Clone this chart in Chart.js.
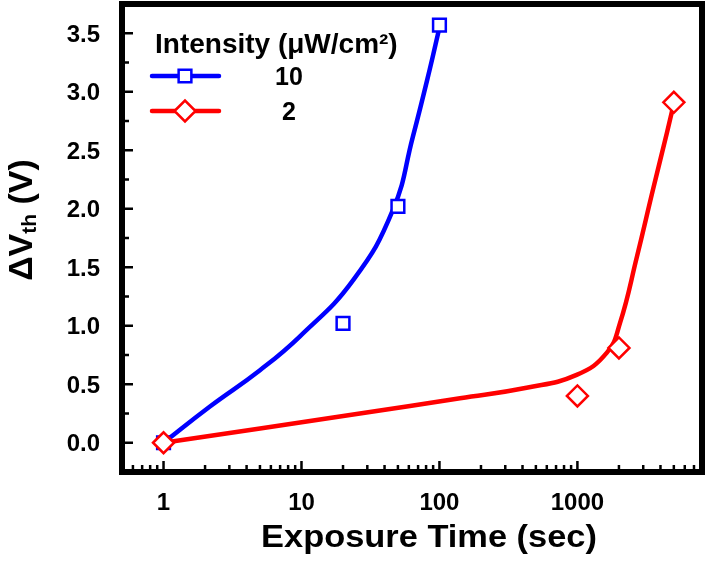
<!DOCTYPE html>
<html>
<head>
<meta charset="utf-8">
<script src="https://cdn.jsdelivr.net/npm/chart.js@4"></script>
<style>
  html, body { margin: 0; padding: 0; background: #fff; }
  #wrap { width: 708px; height: 570px; position: relative; }
</style>
</head>
<body>
<div id="wrap"><canvas id="shiftChart"></canvas></div>

<script>
// measured points
var blueTime = [1, 20, 50, 100];
var blueShift = [0, 1.02, 2.02, 3.57];
var redTime = [1, 1000, 2000, 5000];
var redShift = [0, 0.40, 0.81, 2.91];

// fitted curves
var blueFitTime = [1, 2.17, 5.0, 9.75, 23.7, 46, 64, 85, 100];
var blueFitShift = [0, 0.31, 0.62, 0.91, 1.39, 1.99, 2.61, 3.19, 3.55];
var redFitTime = [1, 26.5, 141, 428, 987, 1636, 2032, 2700, 3524, 4456, 5000];
var redFitShift = [0, 0.25, 0.38, 0.47, 0.58, 0.77, 1.02, 1.59, 2.16, 2.65, 2.90];

var intensities = ['10', '2'];
var xTickLabels = [1, 10, 100, 1000];
var yTickLabels = [0, 0.5, 1.0, 1.5, 2.0, 2.5, 3.0, 3.5];

var FONT = '"Liberation Sans", Arial, sans-serif';
var BLUE = '#0000ff';
var RED = '#ff0000';

function pts(xs, ys) {
    var out = [];
    for (let i = 0; i < xs.length; i++) out.push({x: xs[i], y: ys[i]});
    return out;
}

function drawMarker(ctx, style, x, y, r, color) {
    ctx.save();
    ctx.beginPath();
    if (style == 'rect') {
        var s = r * Math.SQRT1_2;
        ctx.rect(x - s, y - s, 2 * s, 2 * s);
    } else {
        ctx.moveTo(x - r, y); ctx.lineTo(x, y - r);
        ctx.lineTo(x + r, y); ctx.lineTo(x, y + r);
        ctx.closePath();
    }
    ctx.fillStyle = '#fff';
    ctx.fill();
    ctx.lineWidth = 2.5;
    ctx.strokeStyle = color;
    ctx.stroke();
    ctx.restore();
}

var decor = {
    id: 'decor',
    beforeDatasetsDraw(chart) {
        var ctx = chart.ctx, a = chart.chartArea;
        var xs = chart.scales.x, ys = chart.scales.y;
        ctx.save();
        ctx.strokeStyle = '#000';
        ctx.lineWidth = 2.5;
        ctx.beginPath();
        // y ticks, inward
        for (let i = -1; i <= 15; i++) {
            var v = i * 0.25;
            var py = ys.getPixelForValue(v);
            ctx.moveTo(a.left, py);
            ctx.lineTo(a.left + (i % 2 == 0 ? 11 : 7), py);
        }
        // x ticks, inward (log)
        for (let d = 0.1; d < 10000; d *= 10) {
            for (let m = 1; m < 10; m++) {
                var xv = d * m;
                if (xv < xs.min || xv > xs.max) continue;
                var px = xs.getPixelForValue(xv);
                ctx.moveTo(px, a.bottom);
                ctx.lineTo(px, a.bottom - (m == 1 ? 11 : 7));
            }
        }
        ctx.stroke();
        ctx.restore();
    },
    afterDraw(chart) {
        var ctx = chart.ctx, a = chart.chartArea;
        var xs = chart.scales.x, ys = chart.scales.y;
        ctx.save();
        // frame
        ctx.strokeStyle = '#000';
        ctx.lineWidth = 6;
        ctx.strokeRect(a.left, a.top, a.right - a.left, a.bottom - a.top);

        ctx.fillStyle = '#000';
        ctx.textBaseline = 'alphabetic';
        // tick labels
        ctx.font = 'bold 24px ' + FONT;
        ctx.textAlign = 'right';
        yTickLabels.forEach(function (v) {
            ctx.fillText(v.toFixed(1), 100, ys.getPixelForValue(v) + 8.5);
        });
        ctx.textAlign = 'center';
        xTickLabels.forEach(function (v) {
            ctx.fillText(String(v), xs.getPixelForValue(v), 510);
        });

        // x title
        ctx.save();
        ctx.font = 'bold 32px ' + FONT;
        ctx.translate(429, 547);
        ctx.scale(1.075, 1);
        ctx.fillText('Exposure Time (sec)', 0, 0);
        ctx.restore();

        // y title with subscript
        ctx.save();
        ctx.translate(32, 220);
        ctx.rotate(-Math.PI / 2);
        ctx.textAlign = 'left';
        var big = 'bold 34px ' + FONT, small = 'bold 21px ' + FONT;
        ctx.font = big;
        var w1 = ctx.measureText('\u0394V').width;
        var w3 = ctx.measureText(' (V)').width;
        ctx.font = small;
        var w2 = ctx.measureText('th').width;
        var x0 = -(w1 + w2 + w3) / 2;
        ctx.font = big;
        ctx.fillText('\u0394V', x0, 0);
        ctx.font = small;
        ctx.fillText('th', x0 + w1, 4);
        ctx.font = big;
        ctx.fillText(' (V)', x0 + w1 + w2, 0);
        ctx.restore();

        // legend
        ctx.textAlign = 'left';
        ctx.font = 'bold 28px ' + FONT;
        ctx.fillText('Intensity (\u03bcW/cm\u00b2)', 155, 53);
        var rows = [
            {y: 76, color: BLUE, style: 'rect', r: 9},
            {y: 111, color: RED, style: 'rectRot', r: 10.5}
        ];
        for (let i = 0; i < rows.length; i++) {
            var row = rows[i];
            ctx.strokeStyle = row.color;
            ctx.lineWidth = 4.5;
            ctx.lineCap = 'round';
            ctx.beginPath();
            ctx.moveTo(152, row.y);
            ctx.lineTo(219, row.y);
            ctx.stroke();
            drawMarker(ctx, row.style, 185, row.y, row.r, row.color);
            ctx.fillStyle = '#000';
            ctx.font = 'bold 25px ' + FONT;
            ctx.textAlign = 'center';
            ctx.fillText(intensities[i], 289, row.y + 9);
        }
        ctx.restore();
    }
};

var ctx = document.getElementById('shiftChart').getContext('2d');

var chart = new Chart(ctx, {
    type: 'scatter',
    data: {
        datasets: [{
            label: intensities[1] + ' points',
            data: pts(redTime, redShift),
            showLine: false,
            pointStyle: 'rectRot',
            pointRadius: 10.5,
            pointBorderWidth: 2.5,
            borderColor: RED,
            backgroundColor: '#fff',
            order: 0
        }, {
            label: intensities[0] + ' points',
            data: pts(blueTime, blueShift),
            showLine: false,
            pointStyle: 'rect',
            pointRadius: 9,
            pointBorderWidth: 2.5,
            borderColor: BLUE,
            backgroundColor: '#fff',
            order: 1
        }, {
            label: intensities[1] + ' fit',
            data: pts(redFitTime, redFitShift),
            showLine: true,
            pointRadius: 0,
            borderColor: RED,
            borderWidth: 4.5,
            tension: 0.45,
            order: 2
        }, {
            label: intensities[0] + ' fit',
            data: pts(blueFitTime, blueFitShift),
            showLine: true,
            pointRadius: 0,
            borderColor: BLUE,
            borderWidth: 4.5,
            tension: 0.45,
            order: 3
        }]
    },
    options: {
        responsive: true,
        maintainAspectRatio: false,
        animation: false,
        events: [],
        layout: { autoPadding: false, padding: { top: 4, right: 6, left: 0, bottom: 0 } },
        plugins: {
            legend: { display: false },
            tooltip: { enabled: false }
        },
        scales: {
            x: {
                type: 'logarithmic',
                min: 0.5,
                max: 8000,
                grid: { display: false, drawTicks: false },
                border: { display: false },
                ticks: { display: false },
                afterFit: function (scale) { scale.height = 98; }
            },
            y: {
                min: -0.25,
                max: 3.75,
                grid: { display: false, drawTicks: false },
                border: { display: false },
                ticks: { display: false },
                afterFit: function (scale) { scale.width = 122; }
            }
        }
    },
    plugins: [decor]
});
</script>
</body>
</html>
